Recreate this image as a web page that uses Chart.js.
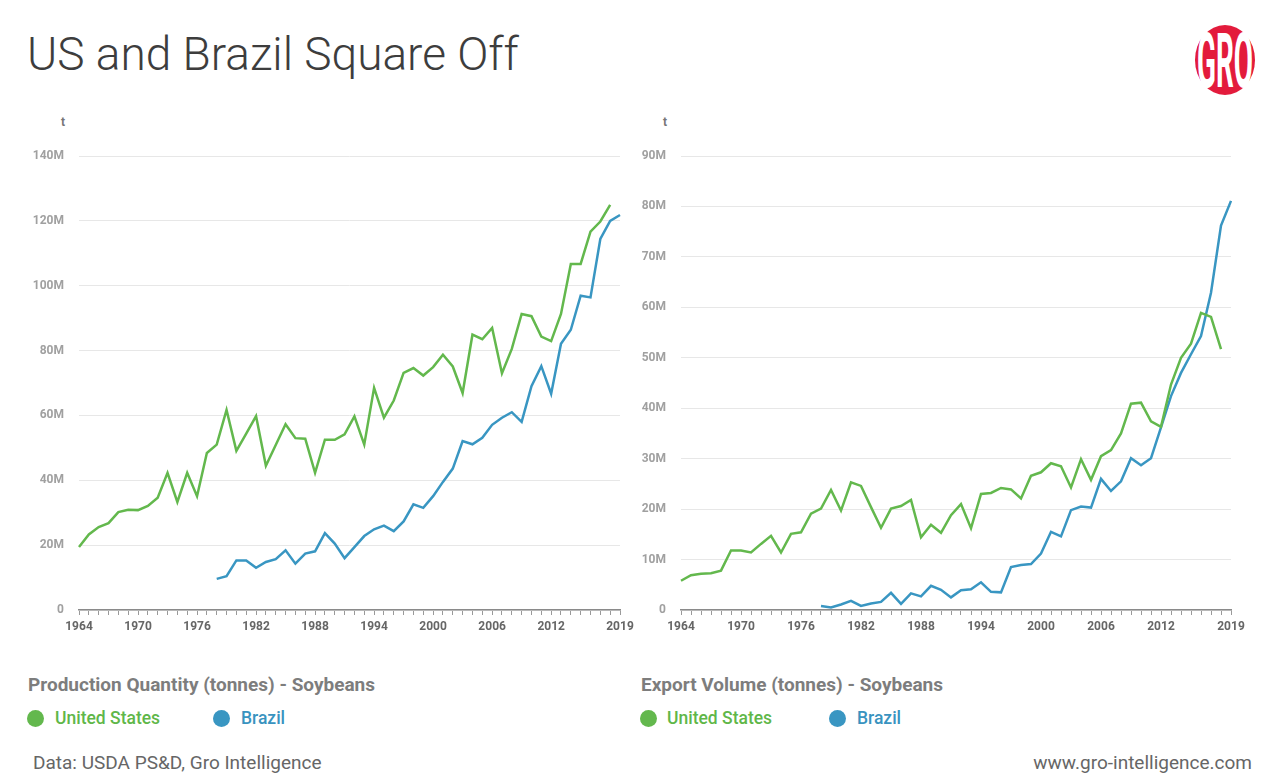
<!DOCTYPE html>
<html>
<head>
<meta charset="utf-8">
<script src="https://cdn.jsdelivr.net/npm/chart.js@4/dist/chart.umd.min.js"></script>
<style>
  html, body { margin: 0; padding: 0; background: #fff; }
  body { width: 1280px; height: 782px; position: relative; overflow: hidden; font-family: Roboto, sans-serif; }
  .abs { position: absolute; white-space: nowrap; }
  .title { left: 27px; top: 31px; font-size: 46px; font-weight: 300; color: #3d3d3d; line-height: 1; }
  .unit { top: 115px; font-size: 12px; font-weight: 700; color: #777; }
  .heading { top: 673px; font-size: 19px; font-weight: 700; color: #7d7d7d; }
  .legend-item { top: 708px; font-size: 17.5px; font-weight: 500; }
  .dot { position: absolute; width: 17px; height: 17px; border-radius: 50%; top: 710px; }
  .footer { top: 751px; font-size: 19px; color: #666; }
  canvas { position: absolute; }
</style>
</head>
<body>
<div class="abs title">US and Brazil Square Off</div>

<svg class="abs" style="left:1190px; top:22px" width="70" height="76" viewBox="1190 22 70 76">
  <ellipse cx="1225" cy="60" rx="30" ry="35" fill="#e31b3c"/>
  <text x="1225" y="46" text-anchor="middle" fill="#fff" font-family="Roboto" font-weight="700" font-size="40"
        textLength="56" lengthAdjust="spacingAndGlyphs" transform="scale(1,1.9)">GRO</text>
</svg>

<div class="abs unit" style="left:61px">t</div>
<div class="abs unit" style="left:663px">t</div>

<div style="position:absolute; left:0; top:100px; width:640px; height:541px;"><canvas id="production-chart"></canvas></div>
<div style="position:absolute; left:620px; top:100px; width:640px; height:541px;"><canvas id="export-chart"></canvas></div>

<div class="abs heading" style="left:28px">Production Quantity (tonnes) - Soybeans</div>
<div class="dot" style="left:27px; background:#63b84d"></div>
<div class="abs legend-item" style="left:55px; color:#5fb749">United States</div>
<div class="dot" style="left:213px; background:#3996c2"></div>
<div class="abs legend-item" style="left:241px; color:#3993c0">Brazil</div>

<div class="abs heading" style="left:641px">Export Volume (tonnes) - Soybeans</div>
<div class="dot" style="left:640px; background:#63b84d"></div>
<div class="abs legend-item" style="left:667px; color:#5fb749">United States</div>
<div class="dot" style="left:829px; background:#3996c2"></div>
<div class="abs legend-item" style="left:857px; color:#3993c0">Brazil</div>

<div class="abs footer" style="left:33px">Data: USDA PS&amp;D, Gro Intelligence</div>
<div class="abs footer" style="right:28px">www.gro-intelligence.com</div>

<script>
// Soybeans, US vs Brazil, 1964-2019 (values in million tonnes)
const years = ['1964','1965','1966','1967','1968','1969','1970','1971','1972','1973',
  '1974','1975','1976','1977','1978','1979','1980','1981','1982','1983',
  '1984','1985','1986','1987','1988','1989','1990','1991','1992','1993',
  '1994','1995','1996','1997','1998','1999','2000','2001','2002','2003',
  '2004','2005','2006','2007','2008','2009','2010','2011','2012','2013',
  '2014','2015','2016','2017','2018','2019'];
const labeledYears = ['1964','1970','1976','1982','1988','1994','2000','2006','2012','2019'];

const usProductionMt = [19.4, 23.3, 25.6, 26.8, 30.2, 30.9, 30.8, 32.1, 34.6, 42.3,
  33.3, 42.3, 35.1, 48.4, 51.0, 61.7, 49.1, 54.4, 59.8, 44.5,
  50.9, 57.3, 53.0, 52.8, 42.3, 52.5, 52.5, 54.2, 59.7, 51.0,
  68.5, 59.3, 64.6, 73.1, 74.6, 72.3, 74.9, 78.7, 75.1, 66.9,
  84.9, 83.5, 87.0, 73.0, 80.5, 91.3, 90.6, 84.3, 82.9, 91.3,
  106.7, 106.7, 116.7, 119.8, 124.9, null];
const brazilProductionMt = [null, null, null, null, null, null, null, null, null, null,
  null, null, null, null, 9.6, 10.4, 15.3, 15.3, 13.0, 14.8,
  15.7, 18.4, 14.3, 17.4, 18.1, 23.7, 20.5, 16.0, 19.4, 22.8,
  24.9, 26.0, 24.3, 27.3, 32.6, 31.5, 35.1, 39.5, 43.6, 52.1,
  51.1, 53.1, 57.1, 59.3, 61.0, 58.0, 69.0, 75.2, 66.7, 82.1,
  86.4, 96.9, 96.4, 114.4, 120.0, 121.8];

const usExportsMt = [5.8, 6.9, 7.2, 7.3, 7.8, 11.8, 11.8, 11.4, 13.1, 14.7,
  11.4, 15.1, 15.4, 19.1, 20.1, 23.8, 19.7, 25.3, 24.6, 20.4,
  16.3, 20.1, 20.6, 21.8, 14.4, 16.9, 15.3, 18.8, 21.0, 16.2,
  23.0, 23.2, 24.2, 23.9, 22.1, 26.6, 27.3, 29.1, 28.5, 24.3,
  29.9, 25.8, 30.5, 31.7, 35.0, 40.9, 41.1, 37.4, 36.3, 44.7,
  50.0, 52.8, 58.9, 58.1, 51.7, null];
const brazilExportsMt = [null, null, null, null, null, null, null, null, null, null,
  null, null, null, null, 0.8, 0.5, 1.1, 1.8, 0.8, 1.3,
  1.6, 3.4, 1.2, 3.3, 2.7, 4.8, 4.0, 2.5, 3.9, 4.1,
  5.5, 3.6, 3.5, 8.5, 8.9, 9.1, 11.2, 15.5, 14.6, 19.8,
  20.5, 20.3, 26.0, 23.6, 25.5, 30.1, 28.7, 30.1, 36.2, 42.4,
  47.0, 50.7, 54.3, 62.9, 76.2, 81.1];

const GREEN = '#63b84d';
const BLUE = '#3996c2';

function lineDataset(label, data, color) {
  return {
    label,
    data,
    borderColor: color,
    backgroundColor: color,
    borderWidth: 2.5,
    pointRadius: 0,
    tension: 0,
    fill: false,
  };
}

function chartOptions(yMax, yStep, yAxisWidth, rightPad) {
  return {
    responsive: true,
    maintainAspectRatio: false,
    animation: false,
    layout: { padding: { top: 56, right: rightPad, bottom: 0, left: 0 } },
    plugins: { legend: { display: false }, tooltip: { enabled: false } },
    scales: {
      x: {
        type: 'category',
        offset: false,
        border: { display: true, color: '#8a8a8a', width: 1.5 },
        grid: { display: true, drawOnChartArea: false, drawTicks: true, tickLength: 5, tickColor: '#9a9a9a' },
        ticks: {
          autoSkip: false,
          maxRotation: 0,
          padding: 5,
          color: '#666',
          font: { family: 'Roboto', size: 12, weight: 'bold' },
          callback: function (value) {
            const label = this.getLabelForValue(value);
            return labeledYears.includes(label) ? label : '';
          },
        },
        afterFit: (scale) => { scale.height = 31; },
      },
      y: {
        min: 0,
        max: yMax,
        border: { display: false },
        grid: { color: '#e7e7e7', lineWidth: 1, drawTicks: false },
        ticks: {
          stepSize: yStep,
          padding: 15,
          color: '#a0a0a0',
          font: { family: 'Roboto', size: 12, weight: 'bold' },
          callback: (v) => (v === 0 ? '0' : v + 'M'),
        },
        afterFit: (scale) => { scale.width = yAxisWidth; },
      },
    },
  };
}

new Chart(document.getElementById('production-chart'), {
  type: 'line',
  data: {
    labels: years,
    datasets: [
      lineDataset('United States', usProductionMt, GREEN),
      lineDataset('Brazil', brazilProductionMt, BLUE),
    ],
  },
  options: chartOptions(140, 20, 79, 20),
});

new Chart(document.getElementById('export-chart'), {
  type: 'line',
  data: {
    labels: years,
    datasets: [
      lineDataset('United States', usExportsMt, GREEN),
      lineDataset('Brazil', brazilExportsMt, BLUE),
    ],
  },
  options: chartOptions(90, 10, 61, 29),
});
</script>
</body>
</html>
